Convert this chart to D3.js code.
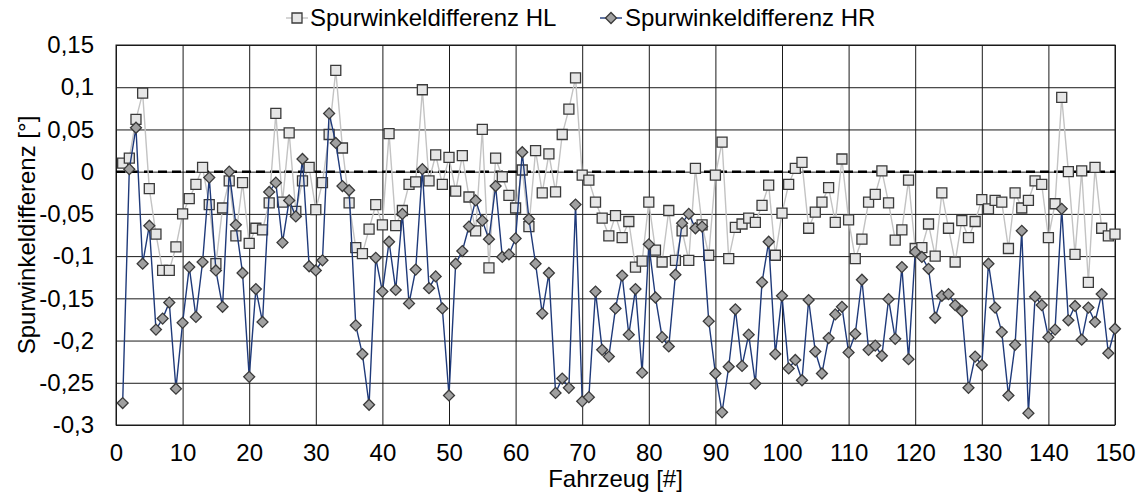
<!DOCTYPE html>
<html><head><meta charset="utf-8">
<script src="https://cdn.jsdelivr.net/npm/d3@7"></script>
<style>body{margin:0;background:#fff}svg{display:block}text{font-family:"Liberation Sans",Arial,sans-serif;fill:#000}</style>
</head><body><svg id="c" width="1139" height="493"></svg>
<script>
const vehicles = d3.range(1, 151);
const hl = [
 0.010, 0.016, 0.062, 0.093,-0.020,-0.074,-0.117,-0.117,-0.089,-0.050,
-0.032,-0.015, 0.005,-0.039,-0.109,-0.043,-0.011,-0.076,-0.013,-0.085,
-0.067,-0.069,-0.037, 0.069,-0.036, 0.046,-0.047,-0.011, 0.005,-0.045,
-0.013, 0.044, 0.120, 0.028,-0.037,-0.090,-0.097,-0.068,-0.039,-0.063,
 0.045,-0.064,-0.046,-0.015,-0.012, 0.097,-0.011, 0.020,-0.015, 0.017,
-0.023, 0.019,-0.030,-0.070, 0.050,-0.114, 0.016,-0.006,-0.028,-0.043,
 0.002,-0.065, 0.025,-0.025, 0.021,-0.024, 0.044, 0.074, 0.111,-0.004,
-0.010,-0.036,-0.055,-0.076,-0.052,-0.078,-0.059,-0.113,-0.106,-0.036,
-0.093,-0.107,-0.046,-0.105,-0.070,-0.105, 0.004,-0.063,-0.099,-0.004,
 0.035,-0.103,-0.066,-0.062,-0.055,-0.060,-0.040,-0.016,-0.099,-0.049,
-0.015, 0.004, 0.011,-0.067,-0.048,-0.036,-0.019,-0.060, 0.015,-0.057,
-0.103,-0.080,-0.036,-0.027, 0.001,-0.037,-0.081,-0.069,-0.010,-0.091,
-0.090,-0.062,-0.100,-0.025,-0.067,-0.107,-0.058,-0.078,-0.059,-0.033,
-0.044,-0.034,-0.036,-0.091,-0.025,-0.043,-0.034,-0.011,-0.015,-0.078,
-0.038, 0.088, 0.000,-0.098, 0.001,-0.131, 0.005,-0.067,-0.076,-0.074
];
const hr = [
-0.274, 0.003, 0.052,-0.109,-0.064,-0.187,-0.174,-0.155,-0.257,-0.179,
-0.113,-0.172,-0.107,-0.007,-0.117,-0.160, 0.000,-0.063,-0.120,-0.243,
-0.139,-0.178,-0.024,-0.013,-0.084,-0.034,-0.053, 0.015,-0.112,-0.117,
-0.105, 0.069, 0.034,-0.017,-0.022,-0.182,-0.216,-0.276,-0.102,-0.142,
-0.083,-0.140,-0.050,-0.156,-0.116, 0.003,-0.138,-0.124,-0.162,-0.265,
-0.109,-0.094,-0.065,-0.034,-0.058,-0.080,-0.017,-0.101,-0.098,-0.079,
 0.023,-0.056,-0.109,-0.168,-0.120,-0.262,-0.245,-0.256,-0.039,-0.272,
-0.267,-0.142,-0.211,-0.219,-0.162,-0.123,-0.193,-0.139,-0.238,-0.086,
-0.149,-0.196,-0.207,-0.122,-0.061,-0.050,-0.067,-0.065,-0.177,-0.239,
-0.285,-0.231,-0.163,-0.230,-0.193,-0.251,-0.131,-0.083,-0.216,-0.147,
-0.233,-0.223,-0.247,-0.152,-0.213,-0.239,-0.197,-0.169,-0.160,-0.214,
-0.192,-0.128,-0.211,-0.206,-0.218,-0.151,-0.198,-0.113,-0.222,-0.095,
-0.101,-0.115,-0.173,-0.147,-0.145,-0.158,-0.165,-0.256,-0.219,-0.229,
-0.109,-0.161,-0.190,-0.265,-0.205,-0.070,-0.286,-0.148,-0.158,-0.196,
-0.187,-0.044,-0.176,-0.159,-0.199,-0.161,-0.178,-0.145,-0.215,-0.186
];
const xTicks = [0,10,20,30,40,50,60,70,80,90,100,110,120,130,140,150];
const yTicks = [0.15,0.1,0.05,0,-0.05,-0.1,-0.15,-0.2,-0.25,-0.3];
const seriesNames = ["Spurwinkeldifferenz HL","Spurwinkeldifferenz HR"];
const xTitle = "Fahrzeug [#]";
const yTitle = "Spurwinkeldifferenz [°]";

const svg = d3.select("#c");
const L=116, R=1115, T=45, B=425;
const x = d3.scaleLinear().domain([0,150]).range([L,R]);
const y = d3.scaleLinear().domain([-0.3,0.15]).range([B,T]);
const fmt = v => (Math.round(v*100)/100).toString().replace(".", ",");

// gridlines
const gx = svg.append("g").attr("transform",`translate(0,${B})`)
  .call(d3.axisBottom(x).tickValues(xTicks).tickSize(-(B-T)).tickFormat(""));
gx.select(".domain").remove();
gx.selectAll("line").attr("stroke","#1a1a1a").attr("stroke-width",1);
const gy = svg.append("g").attr("transform",`translate(${L},0)`)
  .call(d3.axisLeft(y).tickValues(yTicks).tickSize(-(R-L)).tickFormat(""));
gy.select(".domain").remove();
gy.selectAll("line").attr("stroke","#1a1a1a").attr("stroke-width",1);
svg.append("rect").attr("x",L).attr("y",T).attr("width",R-L).attr("height",B-T)
  .attr("fill","none").attr("stroke","#1a1a1a").attr("stroke-width",1);

// zero line
svg.append("line").attr("x1",L).attr("x2",R).attr("y1",y(0)).attr("y2",y(0))
  .attr("stroke","#000").attr("stroke-width",2.5).attr("stroke-dasharray","9,5");

// tick labels
const ay = svg.append("g").attr("transform",`translate(${L},0)`)
  .call(d3.axisLeft(y).tickValues(yTicks).tickSize(0).tickPadding(22).tickFormat(fmt));
ay.select(".domain").remove();
ay.selectAll("text").attr("font-size",24).attr("font-family","Liberation Sans, Arial, sans-serif").attr("fill","#000");
const ax = svg.append("g").attr("transform",`translate(0,${B})`)
  .call(d3.axisBottom(x).tickValues(xTicks).tickSize(0).tickPadding(19).tickFormat(d=>d));
ax.select(".domain").remove();
ax.selectAll("text").attr("font-size",24).attr("font-family","Liberation Sans, Arial, sans-serif").attr("fill","#000");

// titles
svg.append("text").attr("x",(L+R)/2).attr("y",487).attr("text-anchor","middle")
  .attr("font-size",24).text(xTitle);
svg.append("text").attr("transform",`translate(35,${(T+B)/2}) rotate(-90)`).attr("text-anchor","middle")
  .attr("font-size",24).text(yTitle);

// series
const hlData = vehicles.map((v,i)=>[v,hl[i]]);
const hrData = vehicles.map((v,i)=>[v,hr[i]]);
const line = d3.line().x(d=>x(d[0])).y(d=>y(d[1]));
const sq = d3.symbol().type(d3.symbolSquare).size(100);
const dia = d3.symbol().type(d3.symbolSquare).size(60);

svg.append("path").datum(hlData).attr("d",line).attr("fill","none").attr("stroke","#c3c3c3").attr("stroke-width",1.4);
svg.append("g").selectAll("path").data(hlData).join("path").attr("d",sq)
  .attr("transform",d=>`translate(${x(d[0])},${y(d[1])})`)
  .attr("fill","#e6e6e6").attr("stroke","#3a3a3a").attr("stroke-width",1.3);

svg.append("path").datum(hrData).attr("d",line).attr("fill","none").attr("stroke","#1f3a7a").attr("stroke-width",1.4);
svg.append("g").selectAll("path").data(hrData).join("path").attr("d",dia)
  .attr("transform",d=>`translate(${x(d[0])},${y(d[1])}) rotate(45)`)
  .attr("fill","#a0a0a0").attr("stroke","#3a3a3a").attr("stroke-width",1.3);

// legend
const lg = svg.append("g");
const items = [{name:seriesNames[0], mx:297, tx:310, lc:"#c3c3c3", sym:sq, rot:0, fill:"#e6e6e6"},
               {name:seriesNames[1], mx:611, tx:625, lc:"#1f3a7a", sym:dia, rot:45, fill:"#a0a0a0"}];
items.forEach(it=>{
  lg.append("line").attr("x1",it.mx-11).attr("x2",it.mx+11).attr("y1",18).attr("y2",18)
    .attr("stroke",it.lc).attr("stroke-width",1.4);
  lg.append("path").attr("d",it.sym).attr("transform",`translate(${it.mx},18) rotate(${it.rot})`)
    .attr("fill",it.fill).attr("stroke","#3a3a3a").attr("stroke-width",1.3);
  lg.append("text").attr("x",it.tx).attr("y",26).attr("font-size",24).text(it.name);
});
</script></body></html>
